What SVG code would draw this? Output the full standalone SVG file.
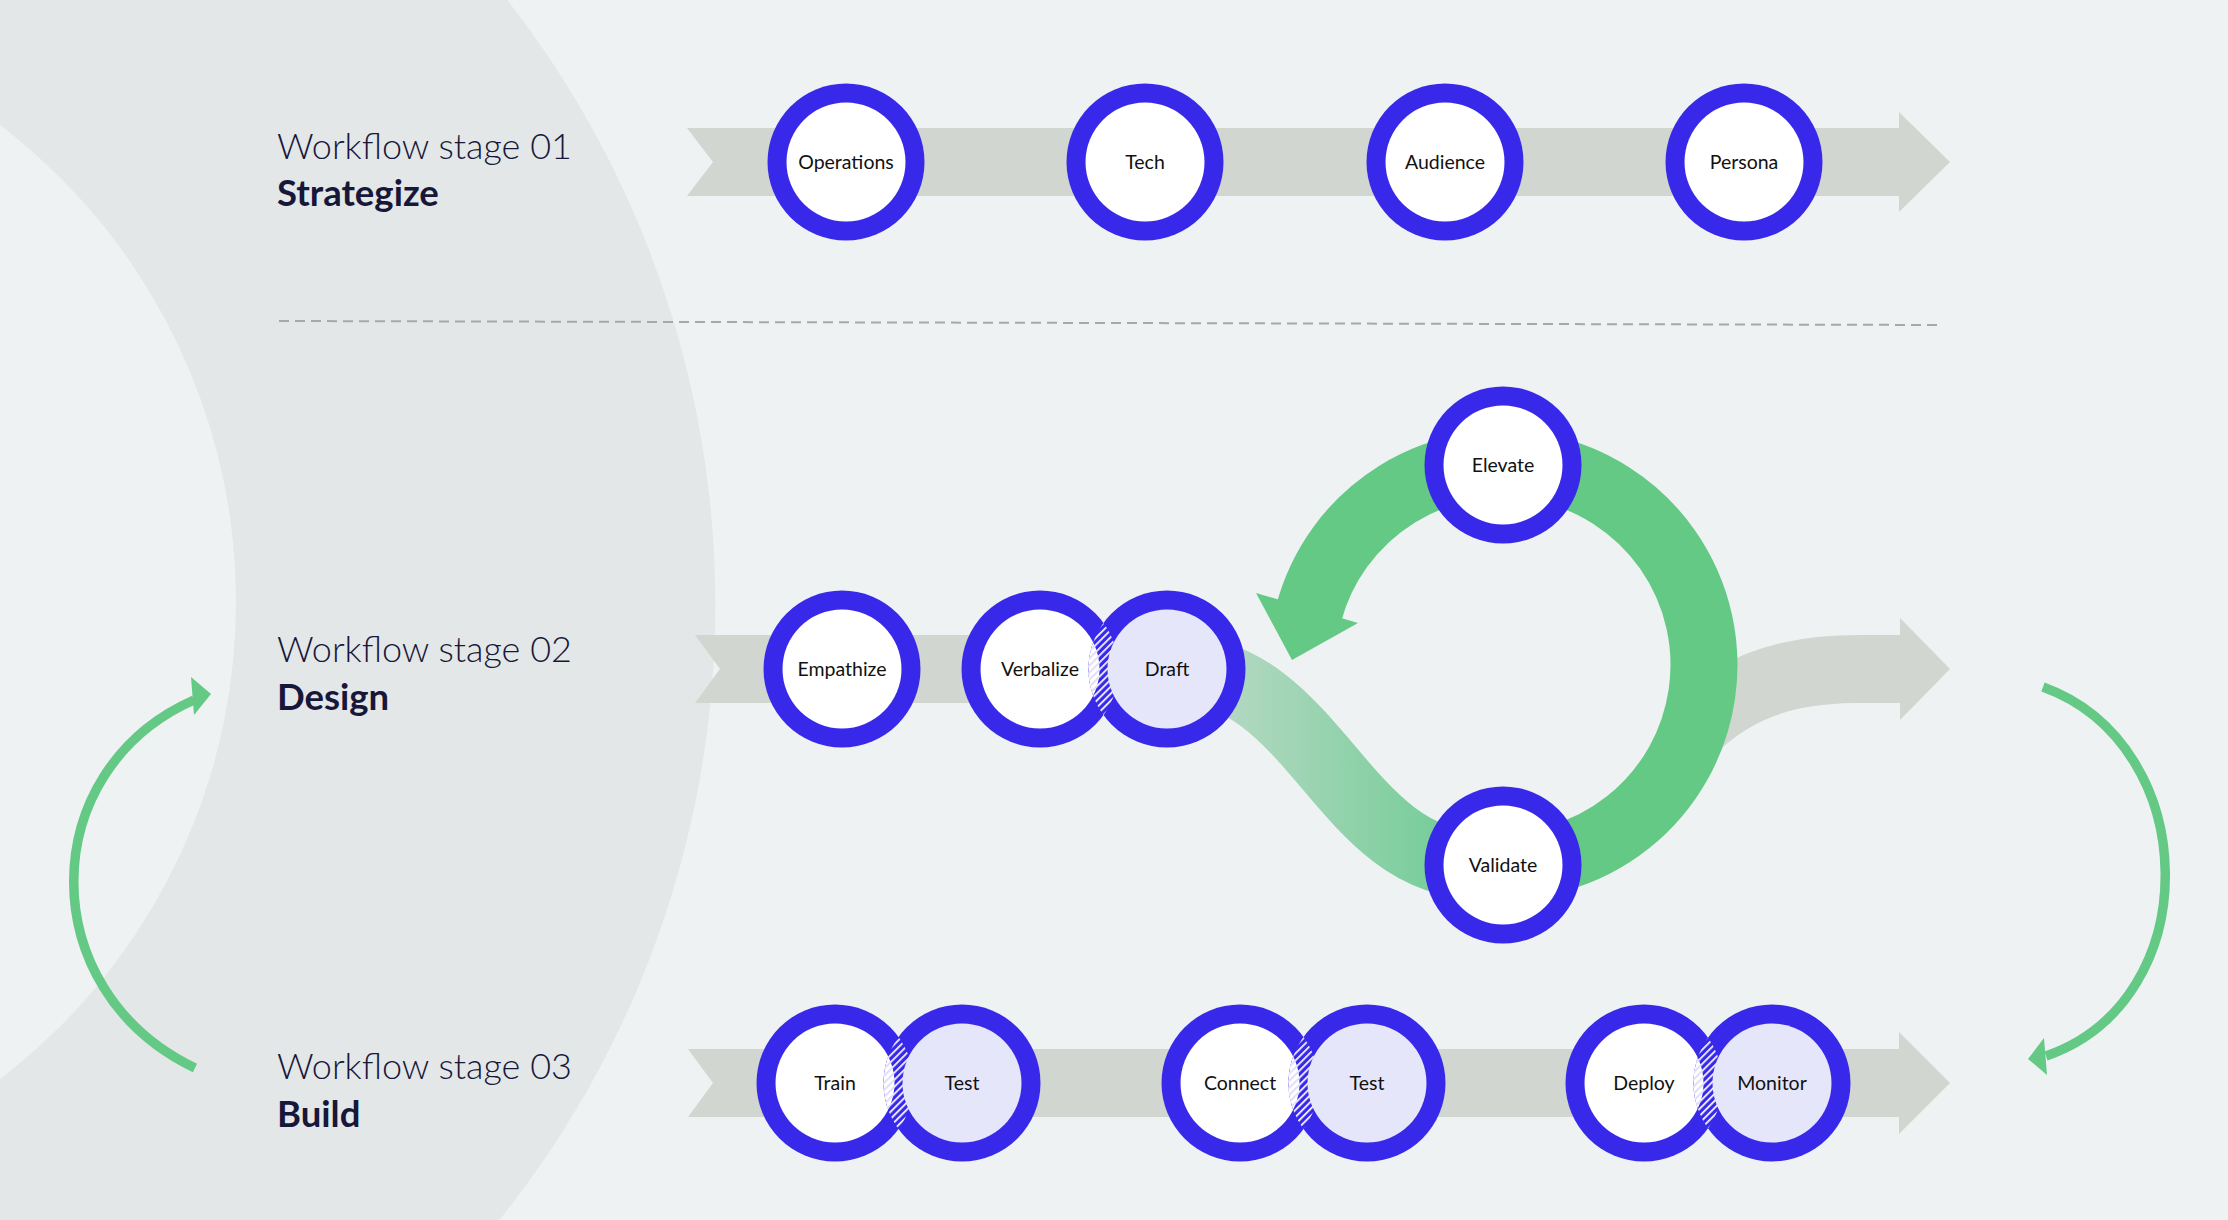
<svg xmlns="http://www.w3.org/2000/svg" width="2228" height="1220" viewBox="0 0 2228 1220">
<defs>
<style>
.bg{fill:#EEF2F3}
.band{fill:#E3E7E8}
.track{fill:#D1D6D0}
.ring{fill:#3829EA}
.in{fill:#FFFFFF}
.in2{fill:#E6E6FB}
.lbl{font-family:Lato,'Liberation Sans',sans-serif;font-size:19.5px;fill:#111111;text-anchor:middle}
.st{font-family:Lato,'Liberation Sans',sans-serif;font-weight:300;font-size:36px;fill:#17173A}
.sb{font-family:Lato,'Liberation Sans',sans-serif;font-weight:700;font-size:36.5px;fill:#17173A}
.side{fill:none;stroke:#63C985;stroke-width:9.5}
.green{fill:#63C985}
</style>
<pattern id="hatch" width="5" height="5" patternUnits="userSpaceOnUse" patternTransform="rotate(45)">
<rect width="5" height="5" fill="#3829EA"/><rect width="1.7" height="5" fill="#FFFFFF"/>
</pattern>
<pattern id="hatchFaint" width="5" height="5" patternUnits="userSpaceOnUse" patternTransform="rotate(45)">
<rect width="1.7" height="5" fill="#DCDAF8"/>
</pattern>
<linearGradient id="grad" gradientUnits="userSpaceOnUse" x1="1230" y1="0" x2="1480" y2="0">
<stop offset="0" stop-color="#B2D8C1"/><stop offset="1" stop-color="#6CCB92"/>
</linearGradient>
<clipPath id="outsideRing"><path clip-rule="evenodd" d="M0,0H2228V1220H0Z M1503,431 A234,234 0 1,0 1503,899 A234,234 0 1,0 1503,431Z"/></clipPath>
<clipPath id="cDraft"><circle cx="1167" cy="669" r="78.5"/></clipPath>
<clipPath id="cTest1"><circle cx="962" cy="1083" r="78.5"/></clipPath>
<clipPath id="cTest2"><circle cx="1367" cy="1083" r="78.5"/></clipPath>
<clipPath id="cMonitor"><circle cx="1772" cy="1083" r="78.5"/></clipPath>
</defs>

<rect class="bg" x="0" y="0" width="2228" height="1220"/>
<path class="band" fill-rule="evenodd" d="M-269,-379 A984,984 0 1,1 -269,1589 A984,984 0 1,1 -269,-379 Z M-364,2 A600,600 0 1,0 -364,1202 A600,600 0 1,0 -364,2 Z"/>

<g id="stage-labels">
<text class="st" x="277" y="159">Workflow stage 01</text>
<text class="sb" x="277" y="206">Strategize</text>
<text class="st" x="277" y="662">Workflow stage 02</text>
<text class="sb" x="277" y="710">Design</text>
<text class="st" x="277" y="1079">Workflow stage 03</text>
<text class="sb" x="277" y="1127">Build</text>
</g>

<line id="divider" x1="279" y1="321" x2="1942" y2="325" stroke="#A5A9AB" stroke-width="2" stroke-dasharray="10 6"/>

<g id="connectors">
<path id="track-1" class="track" d="M687,128 H1899 V112 L1950,162 L1899,212 V196 H687 L713,162 Z"/>
<path id="track-2a" class="track" d="M695,635 H1167 V703 H695 L720,669 Z"/>
<path id="track-2b" d="M1625,815 C1695,700 1760,669 1860,669 L1902,669" fill="none" stroke="#D1D6D0" stroke-width="68" clip-path="url(#outsideRing)"/>
<polygon class="track" points="1900,618 1950,669 1900,720"/>
<path id="track-3" class="track" d="M688,1049 H1899 V1032 L1950,1083 L1899,1134 V1117 H688 L713,1083 Z"/>
<path id="draft-to-validate" d="M1175,669 C1315,669 1342,865 1480,865 L1503,865" fill="none" stroke="url(#grad)" stroke-width="68"/>
<path id="loop" d="M1485.5,865.2 A201,201 0 1 0 1308.8,613" fill="none" stroke="#63C985" stroke-width="67"/>
<polygon class="green" points="1256,593 1292,660 1358,623"/>
<path id="back-up" class="side" d="M195,1068 C32,990 35,770 194,700"/>
<polygon class="green" points="191,677 211,694 194,715"/>
<path id="back-down" class="side" d="M2043,687 C2203,745 2208,1000 2046,1056"/>
<polygon class="green" points="2044,1038 2028,1059 2047,1075"/>
</g>

<g id="node-operations"><circle class="ring" cx="846" cy="162" r="78.5"/><circle class="in" cx="846" cy="162" r="59.5"/><text class="lbl" x="846" y="169">Operations</text></g>
<g id="node-tech"><circle class="ring" cx="1145" cy="162" r="78.5"/><circle class="in" cx="1145" cy="162" r="59.5"/><text class="lbl" x="1145" y="169">Tech</text></g>
<g id="node-audience"><circle class="ring" cx="1445" cy="162" r="78.5"/><circle class="in" cx="1445" cy="162" r="59.5"/><text class="lbl" x="1445" y="169">Audience</text></g>
<g id="node-persona"><circle class="ring" cx="1744" cy="162" r="78.5"/><circle class="in" cx="1744" cy="162" r="59.5"/><text class="lbl" x="1744" y="169">Persona</text></g>

<g id="node-empathize"><circle class="ring" cx="842" cy="669" r="78.5"/><circle class="in" cx="842" cy="669" r="59.5"/><text class="lbl" x="842" y="676">Empathize</text></g>
<g id="node-verbalize"><circle class="ring" cx="1040" cy="669" r="78.5"/><circle class="in" cx="1040" cy="669" r="59.5"/><text class="lbl" x="1040" y="676">Verbalize</text></g>
<g id="node-draft"><circle class="ring" cx="1167" cy="669" r="78.5"/>
<g clip-path="url(#cDraft)"><circle cx="1040" cy="669" r="78.5" fill="url(#hatch)"/><circle class="in" cx="1040" cy="669" r="59.5"/><circle cx="1040" cy="669" r="59.5" fill="url(#hatchFaint)"/></g>
<circle class="in2" cx="1167" cy="669" r="59.5"/><text class="lbl" x="1167" y="676">Draft</text></g>
<g id="node-elevate"><circle class="ring" cx="1503" cy="465" r="78.5"/><circle class="in" cx="1503" cy="465" r="59.5"/><text class="lbl" x="1503" y="472">Elevate</text></g>
<g id="node-validate"><circle class="ring" cx="1503" cy="865" r="78.5"/><circle class="in" cx="1503" cy="865" r="59.5"/><text class="lbl" x="1503" y="872">Validate</text></g>

<g id="node-train"><circle class="ring" cx="835" cy="1083" r="78.5"/><circle class="in" cx="835" cy="1083" r="59.5"/><text class="lbl" x="835" y="1090">Train</text></g>
<g id="node-test-1"><circle class="ring" cx="962" cy="1083" r="78.5"/>
<g clip-path="url(#cTest1)"><circle cx="835" cy="1083" r="78.5" fill="url(#hatch)"/><circle class="in" cx="835" cy="1083" r="59.5"/><circle cx="835" cy="1083" r="59.5" fill="url(#hatchFaint)"/></g>
<circle class="in2" cx="962" cy="1083" r="59.5"/><text class="lbl" x="962" y="1090">Test</text></g>
<g id="node-connect"><circle class="ring" cx="1240" cy="1083" r="78.5"/><circle class="in" cx="1240" cy="1083" r="59.5"/><text class="lbl" x="1240" y="1090">Connect</text></g>
<g id="node-test-2"><circle class="ring" cx="1367" cy="1083" r="78.5"/>
<g clip-path="url(#cTest2)"><circle cx="1240" cy="1083" r="78.5" fill="url(#hatch)"/><circle class="in" cx="1240" cy="1083" r="59.5"/><circle cx="1240" cy="1083" r="59.5" fill="url(#hatchFaint)"/></g>
<circle class="in2" cx="1367" cy="1083" r="59.5"/><text class="lbl" x="1367" y="1090">Test</text></g>
<g id="node-deploy"><circle class="ring" cx="1644" cy="1083" r="78.5"/><circle class="in" cx="1644" cy="1083" r="59.5"/><text class="lbl" x="1644" y="1090">Deploy</text></g>
<g id="node-monitor"><circle class="ring" cx="1772" cy="1083" r="78.5"/>
<g clip-path="url(#cMonitor)"><circle cx="1644" cy="1083" r="78.5" fill="url(#hatch)"/><circle class="in" cx="1644" cy="1083" r="59.5"/><circle cx="1644" cy="1083" r="59.5" fill="url(#hatchFaint)"/></g>
<circle class="in2" cx="1772" cy="1083" r="59.5"/><text class="lbl" x="1772" y="1090">Monitor</text></g>
</svg>
